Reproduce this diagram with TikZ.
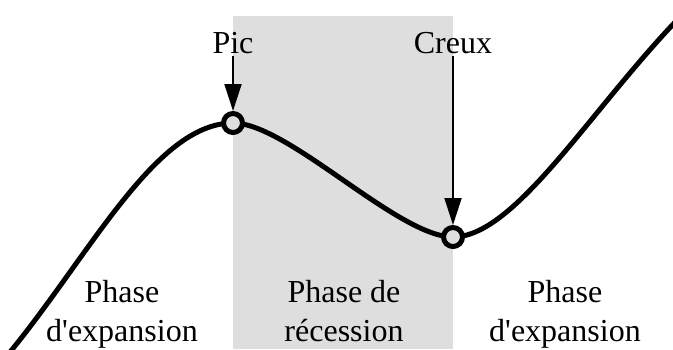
\documentclass[tikz,border=0pt]{standalone}
\usepackage{fontspec}
\setmainfont{Liberation Serif}
\usetikzlibrary{arrows.meta}
\definecolor{Shade}{HTML}{DEDEDE}

\begin{document}
\begin{tikzpicture}[x=1pt,y=-1pt,
    turn/.style={circle,draw=black,fill=Shade,line width=5pt,minimum size=19pt,inner sep=0pt},
    tag/.style={font=\fontsize{32}{39.5}\selectfont,inner sep=2pt},
    phase/.style={font=\fontsize{32}{39.5}\selectfont,align=center,inner sep=0pt,anchor=north}]
    \useasboundingbox (0,0) rectangle (673,349);
    \fill[Shade] (233,16) rectangle (453,349);
    \coordinate (start) at (0,364);
    \coordinate (stop) at (680,17);
    \coordinate (top) at (233,123);
    \coordinate (bottom) at (453,237);
    \begin{scope}
      \clip (0,0) rectangle (673,349);
      \draw[line width=5pt] (start) .. controls (85,265) and (153,123) .. (top)
        .. controls (288,123) and (398,237) .. (bottom)
        .. controls (515,237) and (590,110) .. (stop);
    \end{scope}
    \node[turn] (pic) at (top) {};
    \node[turn] (creux) at (bottom) {};
    \node[tag,anchor=base] (pictxt) at (233,53) {Pic};
    \node[tag,anchor=base] (creuxtxt) at (453,53) {Creux};
    \foreach \a/\b in {pictxt/pic,creuxtxt/creux} {
      \draw[line width=1.8pt,-{Triangle[length=27pt,width=17pt]}] (\a) -- (\b);
    }
    \node[phase] (exp1) at (122,280) {Phase\\d\textquotesingle expansion};
    \node[phase] (rec) at (344,280) {Phase de\\récession};
    \node[phase] (exp2) at (565,280) {Phase\\d\textquotesingle expansion};
  \end{tikzpicture}
\end{document}
